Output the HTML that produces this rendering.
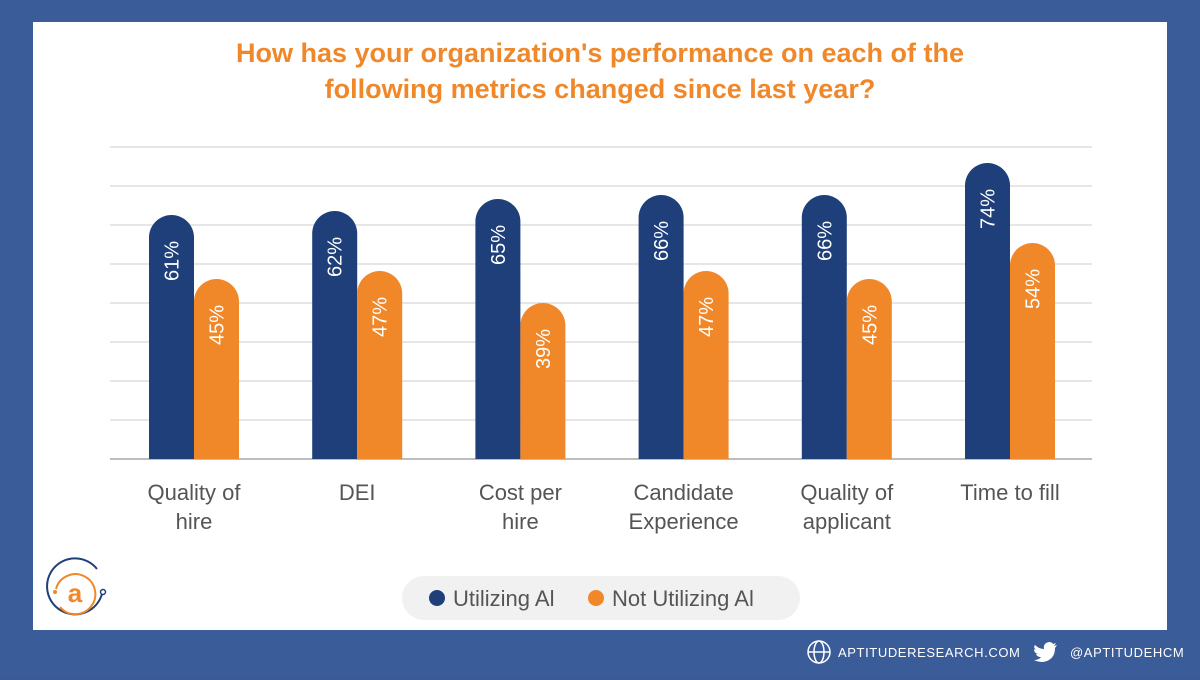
<!DOCTYPE html>
<html><head><meta charset="utf-8"><style>
body{margin:0;width:1200px;height:675px;overflow:hidden;background:#3a5b98;font-family:"Liberation Sans",sans-serif}
</style></head><body>
<svg width="1200" height="675" xmlns="http://www.w3.org/2000/svg">
<rect width="1200" height="675" fill="#3a5c99"/>
<rect x="33" y="22" width="1134" height="608" fill="#fff"/>
<text x="600" y="62" text-anchor="middle" font-size="27" font-weight="bold" fill="#f0882a">How has your organization's performance on each of the</text>
<text x="600" y="98" text-anchor="middle" font-size="27" font-weight="bold" fill="#f0882a">following metrics changed since last year?</text>
<g id="grid"></g><g id="bars"></g><g id="labels"></g>
<rect x="402" y="576" width="398" height="44" rx="22" fill="#f1f1f1"/>
<circle cx="437" cy="598" r="8" fill="#1e3f7a"/>
<text x="453" y="606" font-size="22" fill="#555">Utilizing Al</text>
<circle cx="596" cy="598" r="8" fill="#f0882a"/>
<text x="612" y="606" font-size="22" fill="#555">Not Utilizing Al</text>
<g>
<path d="M97 569 A28 28 0 1 0 102 594" fill="none" stroke="#1e3f7a" stroke-width="2"/>
<circle cx="103" cy="592" r="2.5" fill="#fff" stroke="#1e3f7a" stroke-width="1.5"/>
<path d="M56 589 A20 20 0 1 1 60 607" fill="none" stroke="#f0882a" stroke-width="2"/>
<circle cx="55" cy="592" r="2" fill="#f0882a"/>
<text x="75" y="602" text-anchor="middle" font-size="26" font-weight="bold" fill="#f0882a">a</text>
</g>
<g>
<circle cx="819" cy="652" r="11" fill="none" stroke="#fff" stroke-width="1.5"/>
<ellipse cx="819" cy="652" rx="5" ry="11" fill="none" stroke="#fff" stroke-width="1.5"/>
<line x1="808" y1="652" x2="830" y2="652" stroke="#fff" stroke-width="1.5"/>
<text x="838" y="657" font-size="13" fill="#fff" letter-spacing="0.6">APTITUDERESEARCH.COM</text>
<path d="M1035 645 q4 4 9 4 q-1-6 5-7 q3 0 4 2 l3-1 -2 3 3-1 -2 3 q0 12-12 14 q-5 0-9-2 q5 0 7-3 q-4 0-5-3 h2 q-4-1-4-5 l2 1 q-3-3-1-5z" fill="#fff"/>
<text x="1070" y="657" font-size="13" fill="#fff" letter-spacing="0.6">@APTITUDEHCM</text>
</g>
</svg>
<script>
const categories=[["Quality of","hire"],["DEI"],["Cost per","hire"],["Candidate","Experience"],["Quality of","applicant"],["Time to fill"]];
const utilizing=[61,62,65,66,66,74];
const notUtilizing=[45,47,39,47,45,54];
const gridTicks=[0,1,2,3,4,5,6,7,8];
const NS="http://www.w3.org/2000/svg";
const y0=459,k=4.0,gStep=39;
const y=v=>y0-v*k;
const gy=t=>y0-t*gStep;
const cx=i=>194+i*163.2;
function mk(t,a,p){const e=document.createElementNS(NS,t);for(const n in a)e.setAttribute(n,a[n]);p.appendChild(e);return e;}
const G=document.getElementById('grid'),B=document.getElementById('bars'),L=document.getElementById('labels');
gridTicks.forEach(t=>{const l=mk('line',{x1:110,x2:1092,y1:gy(t),y2:gy(t),stroke:t===0?'#bdbdbd':'#d6d6d6','stroke-width':t===0?2:1.2},G);

});
function bar(x,v,col,i,s){const top=y(v),w=45,r=22.5;
const p=mk('path',{d:`M${x} ${y0} L${x} ${top+r} A${r} ${r} 0 0 1 ${x+w} ${top+r} L${x+w} ${y0} Z`,fill:col},B);


const tx=x+w/2+7,ty=top+46;
const t=mk('text',{x:tx,y:ty,transform:`rotate(-90 ${tx} ${ty})`,'text-anchor':'middle','font-size':20,fill:'#fff'},B);
t.textContent=v+'%';

}
categories.forEach((c,i)=>{
bar(cx(i)-45,utilizing[i],'#1e3f7a',i,'utilizing');
bar(cx(i),notUtilizing[i],'#f0882a',i,'not-utilizing');
c.forEach((ln,j)=>{const t=mk('text',{x:cx(i),y:500+j*29,'text-anchor':'middle','font-size':22,fill:'#555'},L);
t.textContent=ln;

});
});
</script>
</body></html>
